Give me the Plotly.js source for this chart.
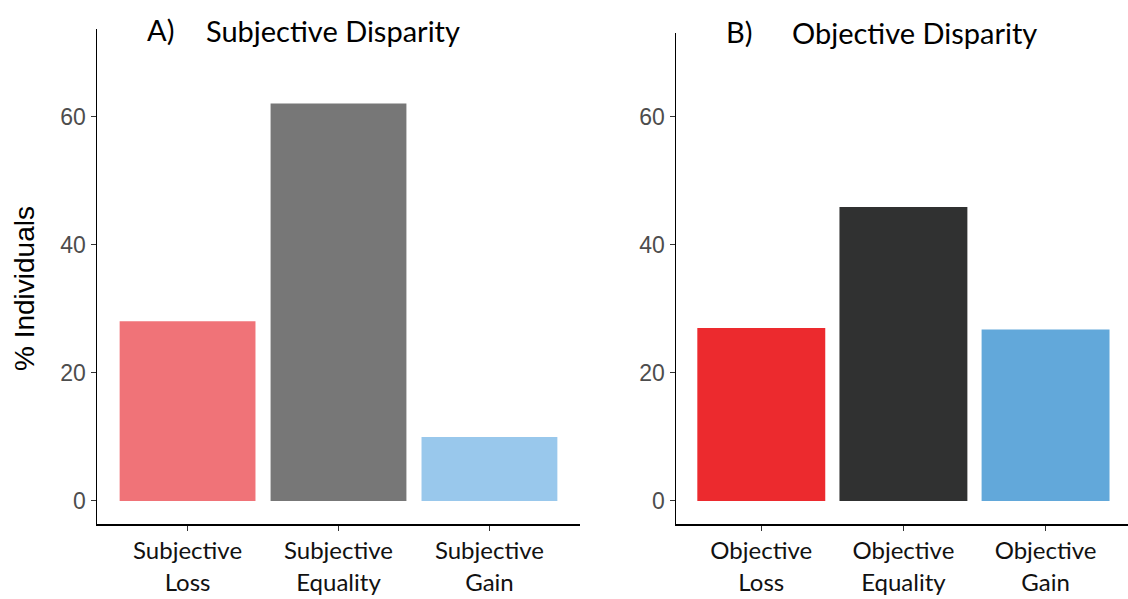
<!DOCTYPE html>
<html>
<head>
<meta charset="utf-8">
<script src="https://cdn.plot.ly/plotly-3.0.1.min.js"></script>
<style>html,body{margin:0;padding:0;background:#fff;}#chart{width:1128px;height:599px;}</style>
</head>
<body>
<div id="chart"></div>
<script>
// Data
const subjCategories = ["Subjective Loss", "Subjective Equality", "Subjective Gain"];
const subjTickText = ["Subjective<br>Loss", "Subjective<br>Equality", "Subjective<br>Gain"];
const subjValues = [28.1, 62.1, 10.0];
const subjColors = ["#F07378", "#777777", "#99C8EC"];

const objCategories = ["Objective Loss", "Objective Equality", "Objective Gain"];
const objTickText = ["Objective<br>Loss", "Objective<br>Equality", "Objective<br>Gain"];
const objValues = [27.0, 45.9, 26.8];
const objColors = ["#EC2A2E", "#303131", "#62A8DA"];

const yTicks = [0, 20, 40, 60];
const yTitle = "% Individuals";
const panelTitles = ["Subjective Disparity", "Objective Disparity"];
const panelLetters = ["A)", "B)"];

const W = 1128, H = 599;
const labelFont = {family: "Lato, 'Open Sans', sans-serif", size: 24, color: "#111"};
const numFont = {family: "Liberation Sans, Arial, sans-serif", size: 23, color: "#4D4D4D"};
const titleFont = {family: "Lato, sans-serif", size: 29, color: "#000"};

const traces = [
  {type: "bar", x: subjCategories, y: subjValues, marker: {color: subjColors}, width: 0.9,
   xaxis: "x", yaxis: "y", hoverinfo: "x+y", showlegend: false},
  {type: "bar", x: objCategories, y: objValues, marker: {color: objColors}, width: 0.9,
   xaxis: "x2", yaxis: "y2", hoverinfo: "x+y", showlegend: false}
];

function xAxis(cats, txt, d, rng, anchor) {
  return {domain: d, range: rng, anchor: anchor, type: "category",
    tickmode: "array", tickvals: cats, ticktext: txt,
    showline: true, linecolor: "#000", linewidth: 1.5, ticks: "outside", ticklen: 5, tickcolor: "#333",
    tickfont: labelFont, showgrid: false, zeroline: false, fixedrange: true, automargin: false};
}
function yAxis(d, rng, anchor) {
  return {domain: d, range: rng, anchor: anchor, tickvals: yTicks,
    showline: true, linecolor: "#000", linewidth: 1.5, ticks: "outside", ticklen: 5, tickcolor: "#333",
    tickfont: numFont, showgrid: false, zeroline: false, fixedrange: true, automargin: false,
    title: {text: ""}};
}

const layout = {
  width: W, height: H,
  margin: {l: 0, r: 0, t: 0, b: 0},
  paper_bgcolor: "#fff", plot_bgcolor: "#fff",
  bargap: 0.1,
  xaxis: xAxis(subjCategories, subjTickText, [97 / W, 580 / W], [-0.6, 2.6], "y"),
  yaxis: yAxis([(H - 524) / H, (H - 29) / H], [-3.6, 73.75], "x"),
  xaxis2: xAxis(objCategories, objTickText, [676 / W, 1], [-0.6, 2.58], "y2"),
  yaxis2: yAxis([(H - 524) / H, (H - 33) / H], [-3.6, 73.1], "x2"),
  annotations: [
    {text: yTitle, textangle: -90, x: 24 / W, y: 1 - 289 / H, xref: "paper", yref: "paper", xanchor: "center", yanchor: "middle", showarrow: false, font: {family: "Liberation Sans, Arial, sans-serif", size: 28, color: "#000"}},
    {text: panelLetters[0], x: 145 / W, y: 1 - 29 / H, xref: "paper", yref: "paper", xanchor: "left", yanchor: "middle", showarrow: false, font: titleFont},
    {text: panelTitles[0], x: 204 / W, y: 1 - 30 / H, xref: "paper", yref: "paper", xanchor: "left", yanchor: "middle", showarrow: false, font: titleFont},
    {text: panelLetters[1], x: 724 / W, y: 1 - 31 / H, xref: "paper", yref: "paper", xanchor: "left", yanchor: "middle", showarrow: false, font: titleFont},
    {text: panelTitles[1], x: 790 / W, y: 1 - 32 / H, xref: "paper", yref: "paper", xanchor: "left", yanchor: "middle", showarrow: false, font: titleFont}
  ]
};

Plotly.newPlot("chart", traces, layout, {displayModeBar: false, staticPlot: true});
</script>
</body>
</html>
